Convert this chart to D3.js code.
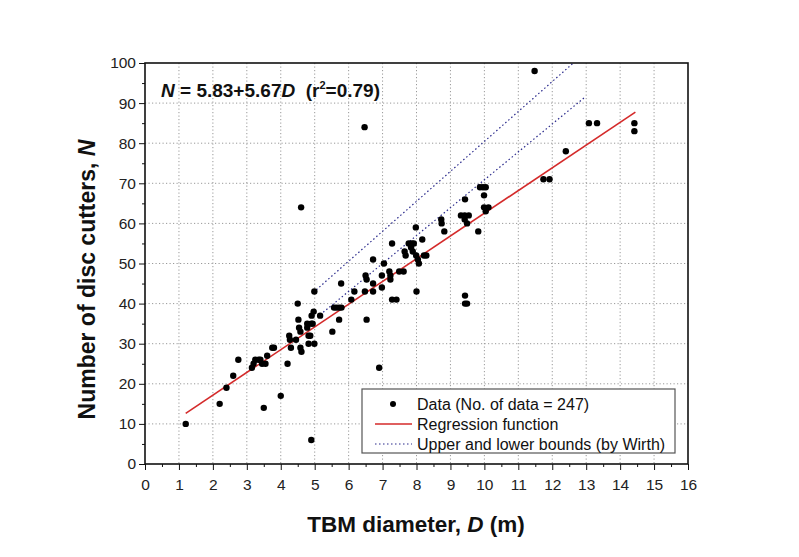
<!DOCTYPE html>
<html>
<head>
<meta charset="utf-8">
<script src="https://cdn.jsdelivr.net/npm/d3@7"></script>
<style>
  body { margin: 0; background: #fff; }
  svg { font-family: Arial, "Liberation Sans", sans-serif; }
  .axis text { font-size: 15.5px; fill: #222; }
  .axis line { stroke: #111; }
  .axis path { display: none; }
  .grid line { stroke: #999; stroke-width: 1; stroke-dasharray: 1.2,2.3; }
</style>
</head>
<body>
<svg id="chart"></svg>
<script>
// TBM diameter D (m) and number of disc cutters N
const diameters = [
  1.2, 2.2, 2.4, 2.6, 2.75, 3.15, 3.2, 3.25, 3.35, 3.4, 3.45, 3.55, 3.5, 3.6, 3.75, 3.8,
  4.0, 4.2, 4.25, 4.27, 4.3, 4.45, 4.5, 4.52, 4.54, 4.58, 4.58, 4.61, 4.6, 4.82, 4.78, 4.82,
  4.87, 4.78, 4.9, 4.94, 4.91, 4.97, 4.99, 4.99, 4.9, 5.16, 5.52, 5.57, 5.64, 5.72, 5.79, 5.72,
  5.78, 6.08, 6.17, 6.47, 6.48, 6.5, 6.53, 6.53, 6.72, 6.72, 6.72, 6.9, 6.98, 6.98, 7.04, 7.2,
  7.23, 7.23, 7.28, 7.28, 7.41, 7.49, 7.62, 7.65, 7.68, 7.77, 7.86, 7.92, 7.84, 7.89, 7.98, 7.99,
  8.04, 8.07, 8.0, 8.17, 8.22, 8.29, 8.73, 8.74, 8.82, 9.31, 9.42, 9.54, 9.43, 9.42, 9.49, 9.43,
  9.43, 9.49, 9.82, 9.87, 9.96, 10.04, 9.99, 9.99, 10.04, 10.12, 11.48, 11.74, 11.92, 12.4, 13.08, 13.32,
  14.42, 14.42
];
const cutters = [
  10, 15, 19, 22, 26, 24, 25, 26, 26, 26, 25, 25, 14, 27, 29, 29,
  17, 25, 32, 31, 29, 31, 40, 36, 34, 33, 29, 28, 64, 30, 34, 32,
  32, 35, 35, 35, 37, 38, 30, 43, 6, 37, 33, 39, 39, 39, 39, 36,
  45, 41, 43, 84, 43, 47, 46, 36, 51, 45, 43, 24, 47, 44, 50, 48,
  46, 47, 55, 41, 41, 48, 48, 53, 52, 55, 55, 55, 54, 53, 59, 52,
  51, 50, 43, 56, 52, 52, 61, 60, 58, 62, 62, 62, 66, 61, 60, 42,
  40, 40, 58, 69, 69, 69, 67, 64, 63, 64, 98, 71, 71, 78, 85, 85,
  85, 83
];

// regression N = 5.83 + 5.67 D, drawn over the data range
const regression = { a: 5.83, b: 5.67, from: 1.2, to: 14.45 };

// Wirth bounds as [D, N] end points
const upperBound = [[4.96, 42.8], [12.62, 100]];
const lowerBound = [[5.16, 37.2], [12.98, 91.6]];

const xTicks = d3.range(0, 17, 1);
const xMinor = d3.range(0.5, 16, 1);
const yTicks = d3.range(0, 101, 10);
const yMinor = d3.range(5, 100, 10);

const W = 799, H = 557;
const plot = { left: 145, right: 688, top: 63, bottom: 464 };

const svg = d3.select('#chart').attr('width', W).attr('height', H);

const x = d3.scaleLinear().domain([0, 16]).range([plot.left, plot.right]);
const y = d3.scaleLinear().domain([0, 100]).range([plot.bottom, plot.top]);

// grid lines
svg.append('g').attr('class', 'grid')
  .selectAll('line').data(xTicks.filter(d => d > 0 && d < 16)).join('line')
  .attr('x1', d => x(d)).attr('x2', d => x(d))
  .attr('y1', plot.top).attr('y2', plot.bottom);
svg.append('g').attr('class', 'grid')
  .selectAll('line').data(yTicks.filter(d => d > 0 && d < 100)).join('line')
  .attr('y1', d => y(d)).attr('y2', d => y(d))
  .attr('x1', plot.left).attr('x2', plot.right);

// axes: major ticks with labels, minor ticks shorter
svg.append('g').attr('class', 'axis')
  .attr('transform', `translate(0,${plot.bottom})`)
  .call(d3.axisBottom(x).tickValues(xTicks).tickSize(6).tickPadding(9).tickFormat(d3.format('d')));
svg.append('g').attr('class', 'axis')
  .attr('transform', `translate(0,${plot.bottom})`)
  .call(d3.axisBottom(x).tickValues(xMinor).tickSize(3).tickFormat(''));
svg.append('g').attr('class', 'axis')
  .attr('transform', `translate(${plot.left},0)`)
  .call(d3.axisLeft(y).tickValues(yTicks).tickSize(6).tickPadding(3).tickFormat(d3.format('d')));
svg.append('g').attr('class', 'axis')
  .attr('transform', `translate(${plot.left},0)`)
  .call(d3.axisLeft(y).tickValues(yMinor).tickSize(3).tickFormat(''));

// bound lines
const line = d3.line().x(d => x(d[0])).y(d => y(d[1]));
[upperBound, lowerBound].forEach(b => {
  svg.append('path').attr('d', line(b))
    .attr('fill', 'none').attr('stroke', '#2a2a8c')
    .attr('stroke-width', 1.2).attr('stroke-dasharray', '1.5,2.5');
});

// regression line
const reg = [regression.from, regression.to].map(d => [d, regression.a + regression.b * d]);
svg.append('path').attr('d', line(reg))
  .attr('fill', 'none').attr('stroke', '#d42a2a').attr('stroke-width', 1.6);

// data points
svg.append('g').selectAll('circle')
  .data(d3.zip(diameters, cutters)).join('circle')
  .attr('cx', d => x(d[0])).attr('cy', d => y(d[1]))
  .attr('r', 3.2).attr('fill', '#000');

// frame
svg.append('rect')
  .attr('x', plot.left).attr('y', plot.top)
  .attr('width', plot.right - plot.left).attr('height', plot.bottom - plot.top)
  .attr('fill', 'none').attr('stroke', '#111').attr('stroke-width', 1.6);

// equation
const eq = svg.append('text').attr('x', 161).attr('y', 97)
  .attr('font-size', 19).attr('font-weight', 'bold').attr('fill', '#111');
eq.append('tspan').attr('font-style', 'italic').text('N');
eq.append('tspan').text(' = 5.83+5.67');
eq.append('tspan').attr('font-style', 'italic').text('D');
eq.append('tspan').attr('xml:space', 'preserve').text('  (r');
eq.append('tspan').attr('font-size', 11).attr('dy', -8).text('2');
eq.append('tspan').attr('dy', 8).text('=0.79)');

// legend
const lg = svg.append('g');
lg.append('rect').attr('x', 362).attr('y', 389).attr('width', 313).attr('height', 64)
  .attr('fill', '#fff').attr('stroke', '#555').attr('stroke-width', 1.2);
const rows = [
  { label: 'Data (No. of data = 247)', type: 'dot' },
  { label: 'Regression function', type: 'reg' },
  { label: 'Upper and lower bounds (by Wirth)', type: 'bound' }
];
rows.forEach((r, i) => {
  const cy = 404 + i * 20;
  if (r.type === 'dot') {
    lg.append('circle').attr('cx', 393).attr('cy', cy).attr('r', 3).attr('fill', '#000');
  } else if (r.type === 'reg') {
    lg.append('line').attr('x1', 375).attr('x2', 412).attr('y1', cy).attr('y2', cy)
      .attr('stroke', '#d42a2a').attr('stroke-width', 1.6);
  } else {
    lg.append('line').attr('x1', 375).attr('x2', 412).attr('y1', cy).attr('y2', cy)
      .attr('stroke', '#2a2a8c').attr('stroke-width', 1.2).attr('stroke-dasharray', '1.5,2.5');
  }
  lg.append('text').attr('x', 417).attr('y', cy + 5.5)
    .attr('font-size', 16).attr('fill', '#111').text(r.label);
});

// axis titles
const xt = svg.append('text').attr('x', 416).attr('y', 532).attr('text-anchor', 'middle')
  .attr('font-size', 22.5).attr('font-weight', 'bold').attr('fill', '#111');
xt.append('tspan').text('TBM diameter, ');
xt.append('tspan').attr('font-style', 'italic').text('D');
xt.append('tspan').text(' (m)');

const yt = svg.append('text')
  .attr('transform', `translate(95,${(plot.top + plot.bottom) / 2 + 16}) rotate(-90)`)
  .attr('text-anchor', 'middle')
  .attr('font-size', 23).attr('font-weight', 'bold').attr('fill', '#111');
yt.append('tspan').text('Number of disc cutters, ');
yt.append('tspan').attr('font-style', 'italic').text('N');
</script>
</body>
</html>
